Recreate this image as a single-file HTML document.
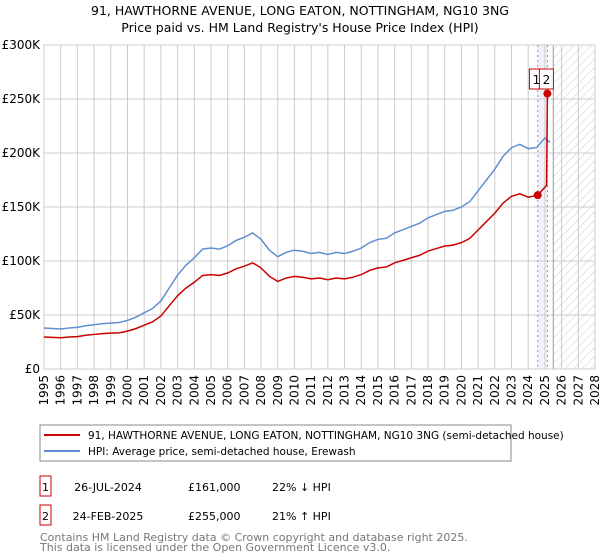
<!DOCTYPE html>
<html><head><meta charset="utf-8"><style>
body{margin:0;background:#fff;font-family:"Liberation Sans","DejaVu Sans",sans-serif;}
#wrap{position:relative;width:600px;height:560px;overflow:hidden;}
svg text{font-family:"DejaVu Sans","Liberation Sans",sans-serif;}
</style></head><body>
<div id="wrap">
<svg id="chart" width="600" height="560"></svg>
</div>
<script>
const years=[1995,1995.5,1996,1996.5,1997,1997.5,1998,1998.5,1999,1999.5,2000,2000.5,2001,2001.5,2002,2002.5,2003,2003.5,2004,2004.5,2005,2005.5,2006,2006.5,2007,2007.5,2008,2008.5,2009,2009.5,2010,2010.5,2011,2011.5,2012,2012.5,2013,2013.5,2014,2014.5,2015,2015.5,2016,2016.5,2017,2017.5,2018,2018.5,2019,2019.5,2020,2020.5,2021,2021.5,2022,2022.5,2023,2023.5,2024,2024.5,2025,2025.3];
const hpi=[38,37.5,37,38,38.5,40,41,42,42.5,43,45,48,52,56,63,75,87,96,103,111,112,111,114,119,122,126,120,110,104,108,110,109,107,108,106,108,107,109,112,117,120,121,126,129,132,135,140,143,146,147,150,155,165,175,185,197,205,208,204,205,214,210];
const redYears=[1995,1995.5,1996,1996.5,1997,1997.5,1998,1998.5,1999,1999.5,2000,2000.5,2001,2001.5,2002,2002.5,2003,2003.5,2004,2004.5,2005,2005.5,2006,2006.5,2007,2007.5,2008,2008.5,2009,2009.5,2010,2010.5,2011,2011.5,2012,2012.5,2013,2013.5,2014,2014.5,2015,2015.5,2016,2016.5,2017,2017.5,2018,2018.5,2019,2019.5,2020,2020.5,2021,2021.5,2022,2022.5,2023,2023.5,2024,2024.3,2024.57,2025.1,2025.15,2025.3];
const red=[29.6,29.3,28.9,29.6,30,31.2,32,32.8,33.2,33.5,35.1,37.4,40.6,43.7,49.1,58.5,67.9,74.9,80.3,86.6,87.4,86.6,88.9,92.8,95.2,98.3,93.6,85.8,81.1,84.2,85.8,85,83.5,84.2,82.7,84.2,83.5,85,87.4,91.3,93.6,94.4,98.3,100.6,103,105.3,109.2,111.5,113.9,114.7,117,120.9,128.7,136.5,144.3,153.7,159.9,162.2,159.1,160,161,170,255,255];
const saleYears=[2024.57,2025.15];
const salePrices=[161,255];
const saleLabels=["1","2"];
const yTicks=[0,50,100,150,200,250,300];
const yTickLabels=["£0","£50K","£100K","£150K","£200K","£250K","£300K"];
const xTicks=[1995,1996,1997,1998,1999,2000,2001,2002,2003,2004,2005,2006,2007,2008,2009,2010,2011,2012,2013,2014,2015,2016,2017,2018,2019,2020,2021,2022,2023,2024,2025,2026,2027,2028];

const NS="http://www.w3.org/2000/svg";
const svg=document.getElementById('chart');
const L=44,R=595,T=45,B=369;
const X=y=>L+(y-1995)/(2028-1995)*(R-L);
const Y=v=>B-v/300*(B-T);
function el(t,a,p){const e=document.createElementNS(NS,t);for(const k in a)e.setAttribute(k,a[k]);(p||svg).appendChild(e);return e;}
function tx(s,a){const e=el('text',a);e.textContent=s;return e;}

// title
let t1=tx("91, HAWTHORNE AVENUE, LONG EATON, NOTTINGHAM, NG10 3NG",{x:300,y:15,'text-anchor':'middle','font-size':12.5,fill:'#000'});

let t2=tx("Price paid vs. HM Land Registry's House Price Index (HPI)",{x:300,y:32,'text-anchor':'middle','font-size':12.5,fill:'#000'});


// hatch
const defs=el('defs',{});
const pat=el('pattern',{id:'h',width:6,height:6,patternUnits:'userSpaceOnUse',patternTransform:'rotate(45)'},defs);
el('line',{x1:0,y1:0,x2:0,y2:6,stroke:'#ccc','stroke-width':1},pat);
let hz=el('rect',{x:X(2025.5),y:T,width:R-X(2025.5),height:B-T,fill:'url(#h)'});

let band=el('rect',{x:X(saleYears[0]),y:T,width:X(saleYears[1])-X(saleYears[0]),height:B-T,fill:'#eef3fb'});


// grid
yTicks.forEach((v,i)=>{
  el('line',{x1:L,x2:R,y1:Y(v),y2:Y(v),stroke:'#ccc','stroke-width':1});
  const t=tx(yTickLabels[i],{x:L-4,y:Y(v)+4,'text-anchor':'end','font-size':12,fill:'#000'});
  
});
xTicks.forEach(y=>{
  el('line',{x1:X(y),x2:X(y),y1:T,y2:B,stroke:'#ccc','stroke-width':1});
  const t=tx(String(y),{x:0,y:0,'text-anchor':'end','font-size':12,fill:'#000',transform:`translate(${X(y)+4},${B+6}) rotate(-90)`});
  
});
el('line',{x1:X(2025.5),x2:X(2025.5),y1:T,y2:B,stroke:'#999','stroke-width':1});
el('rect',{x:L,y:T,width:R-L,height:B-T,fill:'none',stroke:'#ccc'});

// sale vlines
saleYears.forEach(s=>{
  const l=el('line',{x1:X(s),x2:X(s),y1:T,y2:B,stroke:'#f07070','stroke-width':1,'stroke-dasharray':'2,3'});
  
});

// lines
const hp=el('polyline',{points:years.map((y,i)=>X(y)+','+Y(hpi[i])).join(' '),fill:'none',stroke:'#6090d0','stroke-width':1.5});

const rp=el('polyline',{points:redYears.map((y,i)=>X(y)+','+Y(red[i])).join(' '),fill:'none',stroke:'#cc0000','stroke-width':1.5});

saleYears.forEach((s,i)=>{
  const c=el('circle',{cx:X(s),cy:Y(salePrices[i]),r:4,fill:'#cc0000'});
  
});
// labels
saleLabels.forEach((lab,i)=>{
  const x0=i===0?X(saleYears[1])-18:X(saleYears[1])-8;
  const b=el('rect',{x:x0,y:69,width:14,height:20,fill:'#fff',stroke:'#cc0000'});
  
  tx(lab,{x:x0+7,y:84,'text-anchor':'middle','font-size':12,fill:'#000'});
});

// legend
const lg=el('rect',{x:40,y:425,width:471,height:36,fill:'#fff',stroke:'#888'});

el('line',{x1:44,x2:80,y1:435,y2:435,stroke:'#cc0000','stroke-width':2});
let le1=tx("91, HAWTHORNE AVENUE, LONG EATON, NOTTINGHAM, NG10 3NG (semi-detached house)",{x:88,y:439,'font-size':10.5,fill:'#000'});

el('line',{x1:44,x2:80,y1:451,y2:451,stroke:'#6090d0','stroke-width':2});
let le2=tx("HPI: Average price, semi-detached house, Erewash",{x:88,y:455,'font-size':10.5,fill:'#000'});


// table
const rows=[["1","26-JUL-2024","£161,000","22% ↓ HPI",476],["2","24-FEB-2025","£255,000","21% ↑ HPI",505]];
rows.forEach(r=>{
  const b=el('rect',{x:40,y:r[4],width:11,height:20,fill:'#fff',stroke:'#cc0000'});
  
  tx(r[0],{x:45.5,y:r[4]+15,'text-anchor':'middle','font-size':11,fill:'#000'});
  tx(r[1],{x:108,y:r[4]+15,'text-anchor':'middle','font-size':11,fill:'#000'});
  tx(r[2],{x:188,y:r[4]+15,'font-size':11,fill:'#000'});
  tx(r[3],{x:272,y:r[4]+15,'font-size':11,fill:'#000'});
});
let f1=tx("Contains HM Land Registry data © Crown copyright and database right 2025.",{x:40,y:541,'font-size':11,fill:'#777'});

let f2=tx("This data is licensed under the Open Government Licence v3.0.",{x:40,y:551,'font-size':11,fill:'#777'});

</script>
</body></html>
